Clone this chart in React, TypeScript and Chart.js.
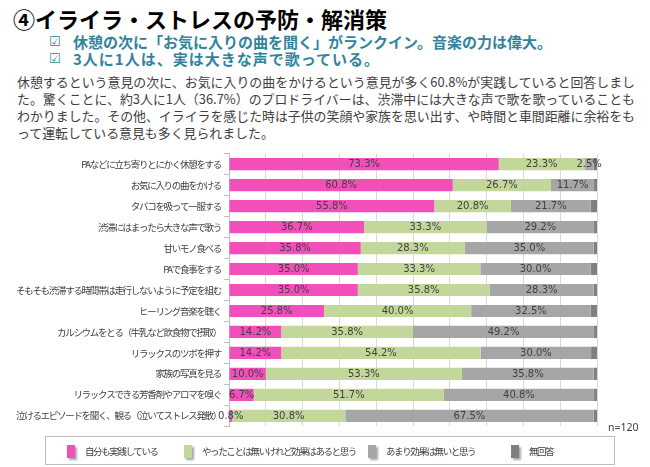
import React, { useEffect, useRef } from "react";
import { Chart, registerables } from "chart.js";

Chart.register(...registerables);

const categories = [
  "PAなどに立ち寄りとにかく休憩をする",
  "お気に入りの曲をかける",
  "タバコを吸って一服する",
  "渋滞にはまったら大きな声で歌う",
  "甘いモノ食べる",
  "PAで食事をする",
  "そもそも渋滞する時間帯は走行しないように予定を組む",
  "ヒーリング音楽を聴く",
  "カルシウムをとる（牛乳など飲食物で摂取）",
  "リラックスのツボを押す",
  "家族の写真を見る",
  "リラックスできる芳香剤やアロマを嗅ぐ",
  "泣けるエピソードを聞く、観る（泣いてストレス発散）",
];

const seriesNames = [
  "自分も実践している",
  "やったことは無いけれど効果はあると思う",
  "あまり効果は無いと思う",
  "無回答",
];

const practiced = [73.3, 60.8, 55.8, 36.7, 35.8, 35.0, 35.0, 25.8, 14.2, 14.2, 10.0, 6.7, 0.8];
const effective = [23.3, 26.7, 20.8, 33.3, 28.3, 33.3, 35.8, 40.0, 35.8, 54.2, 53.3, 51.7, 30.8];
const notEffective = [2.5, 11.7, 21.7, 29.2, 35.0, 30.0, 28.3, 32.5, 49.2, 30.0, 35.8, 40.8, 67.5];
const noAnswer = [0.9, 0.8, 1.7, 0.8, 0.9, 1.7, 0.9, 1.7, 0.8, 1.6, 0.9, 0.8, 0.9];

const seriesColors = ["#F24FBB", "#C4D79B", "#A6A6A6", "#7F7F7F"];

const title = "④イライラ・ストレスの予防・解消策";
const subLines = [
  "休憩の次に「お気に入りの曲を聞く」がランクイン。音楽の力は偉大。",
  "3人に1人は、実は大きな声で歌っている。",
];
const paragraphLines = [
  "休憩するという意見の次に、お気に入りの曲をかけるという意見が多く60.8%が実践していると回答しまし",
  "た。驚くことに、約3人に1人（36.7%）のプロドライバーは、渋滞中には大きな声で歌を歌っていることも",
  "わかりました。その他、イライラを感じた時は子供の笑顔や家族を思い出す、や時間と車間距離に余裕をも",
  "って運転している意見も多く見られました。",
];
const sampleNote = "n=120";

const legendX = [67, 184, 368, 511];

const labelPlugin = {
  id: "barLabels",
  beforeDraw(chart: any) {
    (chart.ctx as any).letterSpacing = "-1.3px";
  },
  beforeDatasetsDraw(chart: any) {
    (chart.ctx as any).letterSpacing = "0px";
  },
  afterDatasetsDraw(chart: any) {
    const ctx = chart.ctx;
    ctx.save();
    (ctx as any).letterSpacing = "0px";
    ctx.font = "10px 'DejaVu Sans'";
    ctx.fillStyle = "#404040";
    ctx.textAlign = "center";
    ctx.textBaseline = "middle";
    for (let d = 0; d < 3; d++) {
      const meta = chart.getDatasetMeta(d);
      const data = chart.data.datasets[d].data as number[];
      meta.data.forEach((el: any, i: number) => {
        const p = el.getProps(["x", "y", "base"], true);
        const cx = (p.x + p.base) / 2;
        ctx.fillText(data[i].toFixed(1) + "%", cx, p.y + 0.5);
      });
    }
    ctx.restore();
  },
};

export default function App() {
  const canvasRef = useRef<HTMLCanvasElement | null>(null);

  useEffect(() => {
    if (!canvasRef.current) return;
    const chart = new Chart(canvasRef.current, {
      type: "bar",
      data: {
        labels: categories,
        datasets: [practiced, effective, notEffective, noAnswer].map((vals, i) => ({
          label: seriesNames[i],
          data: vals,
          backgroundColor: seriesColors[i],
          borderWidth: 0,
          barPercentage: 0.58,
          categoryPercentage: 1,
        })),
      },
      options: {
        indexAxis: "y",
        responsive: false,
        animation: false,
        events: [],
        layout: { padding: { left: 0, right: 53, top: 7.7, bottom: 7.6 } },
        plugins: {
          legend: { display: false },
          tooltip: { enabled: false },
          title: { display: false },
        },
        scales: {
          x: {
            stacked: true,
            min: 0,
            max: 100,
            ticks: { display: false, stepSize: 10 },
            grid: { color: "#D9D9D9", drawTicks: false, lineWidth: 1 },
            border: { display: false },
            afterFit: (s: any) => {
              s.height = 0;
            },
          },
          y: {
            stacked: true,
            offset: true,
            ticks: {
              color: "#404040",
              font: { family: "'Noto Sans CJK JP'", size: 9.5 },
              padding: 3,
              autoSkip: false,
            },
            grid: {
              drawOnChartArea: false,
              drawTicks: true,
              tickLength: 5,
              color: "#BFBFBF",
              offset: true,
            },
            border: { display: true, color: "#BFBFBF" },
            afterFit: (s: any) => {
              s.width = 229;
            },
          },
        },
      },
      plugins: [labelPlugin],
    });
    return () => chart.destroy();
  }, []);

  const cjk = "'Noto Sans CJK JP', 'Noto Sans', sans-serif";

  return (
    <div
      style={{
        position: "absolute",
        left: 0,
        top: 0,
        width: 650,
        height: 467,
        background: "#fff",
        overflow: "hidden",
        fontFamily: cjk,
      }}
    >
      <div
        style={{
          position: "absolute",
          left: 13,
          top: 4,
          fontSize: 22,
          fontWeight: 700,
          lineHeight: "28px",
          color: "#000",
          whiteSpace: "nowrap",
        }}
      >
        {title}
      </div>
      {subLines.map((t, i) => (
        <React.Fragment key={i}>
          <div
            style={{
              position: "absolute",
              left: 49,
              top: 33 + i * 17,
              fontSize: 13,
              lineHeight: "18px",
              color: "#31849B",
              fontFamily: "'DejaVu Sans', sans-serif",
            }}
          >
            ☑
          </div>
          <div
            style={{
              position: "absolute",
              left: 73,
              top: 32 + i * 17,
              fontSize: 15,
              fontWeight: 700,
              lineHeight: "20px",
              letterSpacing: i === 1 ? "1px" : "0px",
              color: "#31849B",
              whiteSpace: "nowrap",
            }}
          >
            {t}
          </div>
        </React.Fragment>
      ))}
      {paragraphLines.map((t, i) => (
        <div
          key={i}
          style={{
            position: "absolute",
            left: 17,
            top: 73 + i * 17,
            width: 618,
            fontSize: 12.9,
            lineHeight: "18px",
            color: "#404040",
            whiteSpace: "nowrap",
            textAlign: "justify",
            textAlignLast: i < paragraphLines.length - 1 ? "justify" : "left",
          }}
        >
          {t}
        </div>
      ))}
      <div style={{ position: "absolute", left: 0, top: 145, width: 650, height: 290 }}>
        <canvas ref={canvasRef} width={650} height={290} style={{ display: "block" }} />
      </div>
      <div
        style={{
          position: "absolute",
          left: 608,
          top: 420,
          fontSize: 10.5,
          lineHeight: "14px",
          color: "#404040",
          fontFamily: "'Noto Sans', sans-serif",
          whiteSpace: "nowrap",
        }}
      >
        {sampleNote}
      </div>
      <div
        style={{
          position: "absolute",
          left: 45,
          top: 436,
          width: 570,
          height: 29,
          border: "1px solid #BFBFBF",
          boxSizing: "border-box",
        }}
      />
      {seriesNames.map((n, i) => (
        <React.Fragment key={i}>
          <div
            style={{
              position: "absolute",
              left: legendX[i],
              top: 445,
              width: 8,
              height: 13,
              background: seriesColors[i],
              boxShadow: "1.5px 1.5px 2px rgba(0,0,0,0.35)",
            }}
          />
          <div
            style={{
              position: "absolute",
              left: legendX[i] + 18,
              top: 443,
              fontSize: 9.5,
              letterSpacing: "-1.4px",
              lineHeight: "16px",
              color: "#404040",
              whiteSpace: "nowrap",
            }}
          >
            {n}
          </div>
        </React.Fragment>
      ))}
    </div>
  );
}
